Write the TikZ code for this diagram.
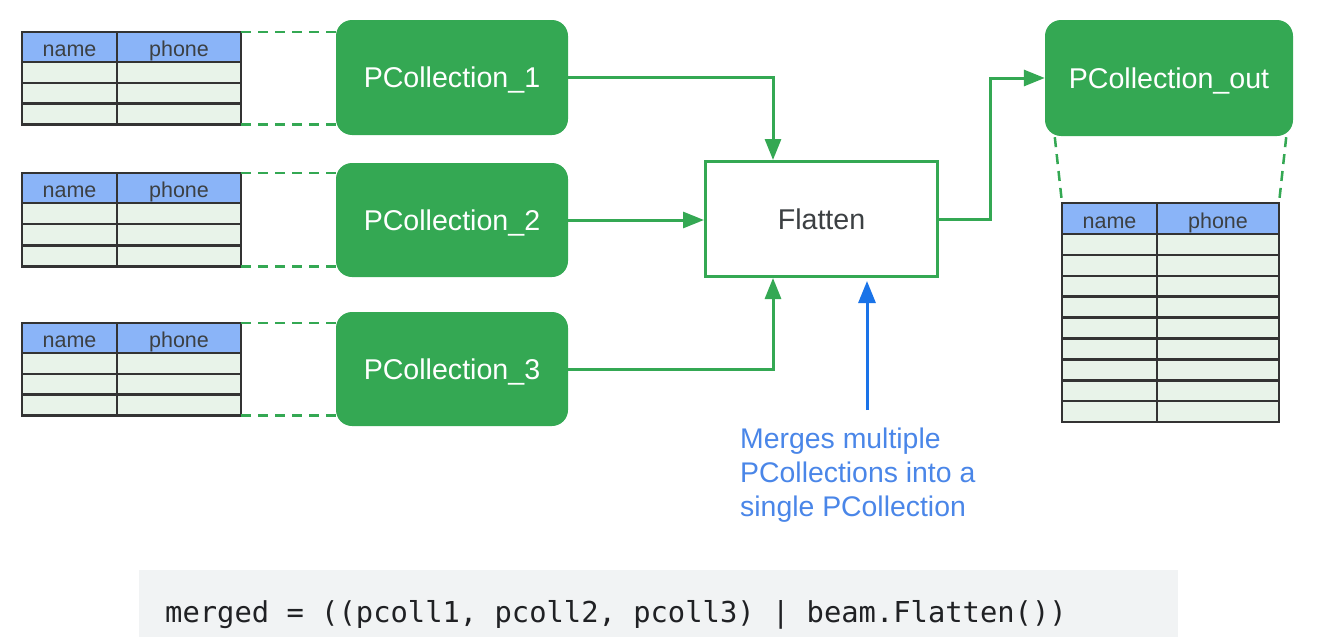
\documentclass[tikz,border=0pt]{standalone}
\usepackage{fontspec}
\setmainfont{Liberation Sans}
\setmonofont{DejaVu Sans Mono}
\usetikzlibrary{arrows.meta,calc}
\definecolor{gg}{HTML}{34A853}
\definecolor{gb}{HTML}{1A73E8}
\definecolor{notec}{HTML}{4A86E8}
\definecolor{hdrc}{HTML}{8AB4F8}
\definecolor{rowc}{HTML}{E8F3E9}
\definecolor{tline}{HTML}{333333}
\definecolor{txtc}{HTML}{3C4043}
\definecolor{codebg}{HTML}{F1F3F4}
\definecolor{codec}{HTML}{202124}
\tikzset{
  pcbox/.style={fill=gg, rounded corners=16pt, text=white, inner sep=0pt,
    text height=20.5pt, text depth=0pt, font=\fontsize{28.6}{32}\selectfont},
  flbox/.style={draw=gg, line width=3pt, fill=white, text=txtc, inner sep=0pt,
    minimum width=232pt, minimum height=115pt,
    text height=20.5pt, text depth=0pt, font=\fontsize{28.6}{32}\selectfont},
  garr/.style={draw=gg, line width=3pt, -{Triangle[length=21pt,width=16pt]}},
  barr/.style={draw=gb, line width=3pt, -{Triangle[length=22pt,width=17pt]}},
  dsh/.style={draw=gg, line width=2.5pt, dash pattern=on 10pt off 7pt},
  tbl/.style={draw=tline, line width=2.5pt},
  htxt/.style={text=txtc, inner sep=0pt, anchor=base, font=\fontsize{21.5}{24}\selectfont},
}
\newcommand\ptable[8]{% x0 x1 x2 top hdrbottom nrows rowh name
  \pgfmathsetmacro\tbot{#5+#6*#7}
  \fill[hdrc] (#1,#4) rectangle (#3,#5);
  \fill[rowc] (#1,#5) rectangle (#3,\tbot);
  \foreach \k in {0,...,#6}{\draw[tbl] (#1,{#5+\k*#7}) -- (#3,{#5+\k*#7});}
  \draw[tbl] (#2,#4) -- (#2,\tbot);
  \draw[tbl] (#1,#4) rectangle (#3,\tbot);
  \coordinate (#8-nw) at (#1,#4);
  \coordinate (#8-ne) at (#3,#4);
  \coordinate (#8-sw) at (#1,\tbot);
  \coordinate (#8-se) at (#3,\tbot);
  \node[htxt] (#8-name) at ({(#1+#2)/2},{#5-5.5}) {name};
  \node[htxt] (#8-phone) at ({(#2+#3)/2},{#5-5.5}) {phone};
}
\begin{document}
\begin{tikzpicture}[x=1pt,y=-1pt]
\useasboundingbox (0,0) rectangle (1319,637);
% code block
\fill[codebg] (139,570) rectangle (1178,637);
\node[anchor=base west, inner sep=0pt, text=codec, font=\ttfamily\fontsize{28.8}{32}\selectfont]
  (code) at (165,622) {merged = ((pcoll1, pcoll2, pcoll3) | beam.Flatten())};
% green boxes
\node[pcbox, minimum width=232pt, minimum height=115pt] (pc1) at (452,77.5) {PCollection\_1};
\node[pcbox, minimum width=232pt, minimum height=114pt] (pc2) at (452,220) {PCollection\_2};
\node[pcbox, minimum width=232pt, minimum height=114pt] (pc3) at (452,369) {PCollection\_3};
\node[pcbox, minimum width=248pt, minimum height=116pt] (pco) at (1169,78) {PCollection\_out};
\node[flbox] (fl) at (821.5,219) {Flatten};
% tables
\ptable{22}{117}{241}{32}{62}{3}{20.8}{t1}
\ptable{22}{117}{241}{173}{203}{3}{21.2}{t2}
\ptable{22}{117}{241}{323}{353}{3}{20.8}{t3}
\ptable{1062}{1157}{1279}{203}{234}{9}{20.9}{to}
% dashed connections
\draw[dsh] (t1-ne) -- (t1-ne -| pc1.west);
\draw[dsh] (t1-se) -- (t1-se -| pc1.west);
\draw[dsh] (t2-ne) -- (t2-ne -| pc2.west);
\draw[dsh] (t2-se) -- (t2-se -| pc2.west);
\draw[dsh] (t3-ne) -- (t3-ne -| pc3.west);
\draw[dsh] (t3-se) -- (t3-se -| pc3.west);
\draw[dsh] ([xshift=10pt,yshift=-1pt]pco.south west) -- (to-nw);
\draw[dsh] ([xshift=-7pt,yshift=-1pt]pco.south east) -- (to-ne);
% arrows
\draw[garr] (pc1.east) -| ([xshift=-48.5pt]fl.north);
\draw[garr] (pc2.east) -- (pc2.east -| fl.west);
\draw[garr] (pc3.east) -| ([xshift=-48.5pt]fl.south);
\draw[garr] (fl.east) -- ++(51,0) |- (pco.west);
% note
\node[anchor=base west, inner sep=0pt, text=notec, align=left,
  font=\fontsize{28.4}{34}\selectfont] (note) at (740,516)
  {Merges multiple\\PCollections into a\\single PCollection};
\coordinate (bstart) at (867,410);
\draw[barr, shorten >=3pt] (bstart) -- (bstart |- fl.south);
\end{tikzpicture}
\end{document}
